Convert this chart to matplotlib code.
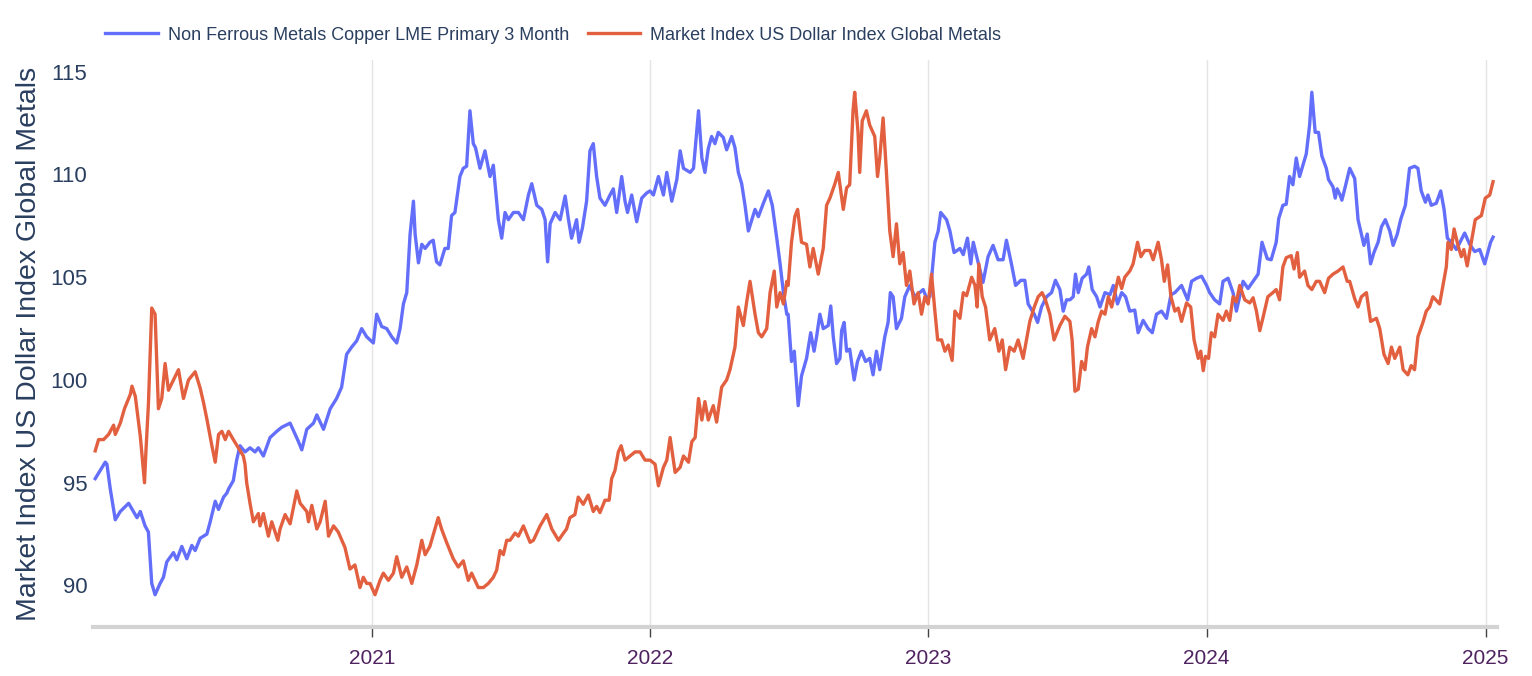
import numpy as np
import pandas as pd
import matplotlib
matplotlib.use("Agg")
import matplotlib.pyplot as plt
import matplotlib.dates as mdates

plt.rcParams["font.family"] = ["Liberation Sans", "DejaVu Sans"]

# decimal-year positions and values
copper_t = [
    2020.008, 2020.026, 2020.044, 2020.050, 2020.062, 2020.080, 2020.098, 2020.128, 2020.158, 2020.170,
    2020.187, 2020.199, 2020.211, 2020.223, 2020.241, 2020.253, 2020.265, 2020.289, 2020.301, 2020.319,
    2020.337, 2020.355, 2020.367, 2020.385, 2020.409, 2020.421, 2020.439, 2020.451, 2020.469, 2020.481,
    2020.487, 2020.504, 2020.516, 2020.528, 2020.546, 2020.564, 2020.582, 2020.594, 2020.612, 2020.636,
    2020.660, 2020.678, 2020.708, 2020.738, 2020.750, 2020.768, 2020.792, 2020.804, 2020.828, 2020.852,
    2020.875, 2020.893, 2020.911, 2020.929, 2020.947, 2020.965, 2020.983,
    2020.995, 2021.007, 2021.019, 2021.037, 2021.055, 2021.073, 2021.091, 2021.103, 2021.115, 2021.127,
    2021.139, 2021.151, 2021.157, 2021.169, 2021.181, 2021.193, 2021.210, 2021.222, 2021.234, 2021.246,
    2021.264, 2021.276, 2021.288, 2021.300, 2021.318, 2021.330, 2021.342, 2021.354, 2021.366, 2021.374,
    2021.390, 2021.408, 2021.426, 2021.438, 2021.456, 2021.468, 2021.480,
    2021.492, 2021.510, 2021.528, 2021.546, 2021.564, 2021.576, 2021.594, 2021.612, 2021.624, 2021.633,
    2021.642, 2021.660, 2021.678, 2021.696, 2021.708, 2021.719, 2021.737, 2021.746, 2021.758, 2021.773,
    2021.785, 2021.797, 2021.809, 2021.821, 2021.839, 2021.857, 2021.869, 2021.881, 2021.899, 2021.911,
    2021.920, 2021.935, 2021.953, 2021.971, 2021.989,
    2022.001, 2022.013, 2022.031, 2022.049, 2022.061, 2022.079, 2022.097, 2022.109, 2022.121, 2022.145,
    2022.157, 2022.175, 2022.187, 2022.198, 2022.210, 2022.222, 2022.234, 2022.246, 2022.264, 2022.276,
    2022.294, 2022.306, 2022.318, 2022.330, 2022.342, 2022.354, 2022.378, 2022.390, 2022.408, 2022.426,
    2022.440, 2022.456, 2022.468, 2022.480, 2022.492,
    2022.497, 2022.509, 2022.519, 2022.533, 2022.545, 2022.563, 2022.578, 2022.590, 2022.599, 2022.611,
    2022.623, 2022.641, 2022.650, 2022.659, 2022.671, 2022.683, 2022.689, 2022.698, 2022.707, 2022.718,
    2022.734, 2022.746, 2022.760, 2022.775, 2022.790, 2022.802, 2022.814, 2022.826, 2022.844, 2022.856,
    2022.864, 2022.874, 2022.886, 2022.904, 2022.916, 2022.934, 2022.952, 2022.982, 2022.994,
    2023.006, 2023.024, 2023.036, 2023.045, 2023.066, 2023.078, 2023.093, 2023.114, 2023.126, 2023.141,
    2023.153, 2023.162, 2023.177, 2023.197, 2023.215, 2023.233, 2023.251, 2023.269, 2023.281, 2023.299,
    2023.314, 2023.333, 2023.347, 2023.359, 2023.381, 2023.393, 2023.407, 2023.425, 2023.443, 2023.457,
    2023.473, 2023.485, 2023.497,
    2023.509, 2023.521, 2023.529, 2023.539, 2023.553, 2023.569, 2023.577, 2023.589, 2023.605, 2023.617,
    2023.635, 2023.653, 2023.665, 2023.680, 2023.695, 2023.709, 2023.724, 2023.742, 2023.754, 2023.772,
    2023.790, 2023.805, 2023.820, 2023.838, 2023.856, 2023.872, 2023.886, 2023.910, 2023.932, 2023.946,
    2023.964, 2023.982, 2024.000,
    2024.011, 2024.029, 2024.047, 2024.059, 2024.077, 2024.095, 2024.107, 2024.131, 2024.149, 2024.167,
    2024.185, 2024.199, 2024.218, 2024.232, 2024.250, 2024.259, 2024.274, 2024.286, 2024.298, 2024.310,
    2024.322, 2024.334, 2024.346, 2024.358, 2024.370, 2024.378, 2024.390, 2024.402, 2024.414, 2024.430,
    2024.438, 2024.454, 2024.462, 2024.469, 2024.478, 2024.486, 2024.498,
    2024.514, 2024.532, 2024.544, 2024.556, 2024.565, 2024.577, 2024.589, 2024.601, 2024.616, 2024.628,
    2024.642, 2024.658, 2024.670, 2024.685, 2024.697, 2024.714, 2024.729, 2024.747, 2024.759, 2024.771,
    2024.786, 2024.795, 2024.807, 2024.825, 2024.841, 2024.853, 2024.865, 2024.879, 2024.897, 2024.927,
    2024.945, 2024.963, 2024.981, 2024.999, 2025.020, 2025.029,
]
copper_v = [
    95.2, 95.6, 96.0, 95.9, 94.7, 93.2, 93.6, 94.0, 93.3, 93.6,
    92.9, 92.6, 90.1, 89.55, 90.1, 90.4, 91.15, 91.6, 91.25, 91.9,
    91.3, 91.95, 91.7, 92.3, 92.5, 93.1, 94.1, 93.7, 94.3, 94.5,
    94.7, 95.1, 96.1, 96.8, 96.5, 96.7, 96.5, 96.7, 96.3, 97.2,
    97.5, 97.7, 97.9, 97.0, 96.6, 97.6, 97.9, 98.3, 97.6, 98.6,
    99.1, 99.65, 101.25, 101.6, 101.9, 102.5, 102.1,
    101.95, 101.8, 103.2, 102.6, 102.5, 102.1, 101.8, 102.5, 103.7, 104.25,
    107.1, 108.7, 107.1, 105.7, 106.6, 106.4, 106.7, 106.8, 105.75, 105.6,
    106.4, 106.4, 108.0, 108.15, 109.9, 110.3, 110.4, 113.1, 111.5, 111.3,
    110.3, 111.15, 109.9, 110.45, 107.8, 106.9, 108.15,
    107.8, 108.15, 108.15, 107.8, 109.0, 109.55, 108.5, 108.3, 107.8, 105.75,
    107.6, 108.15, 107.8, 108.95, 107.8, 106.9, 107.8, 106.7, 107.4, 108.7,
    111.15, 111.5, 109.9, 108.85, 108.5, 109.0, 109.3, 108.15, 109.9, 108.7,
    108.15, 109.0, 107.7, 108.85, 109.1,
    109.2, 109.0, 109.9, 109.0, 110.1, 108.7, 109.75, 111.15, 110.3, 110.1,
    110.3, 113.1, 110.8, 110.1, 111.25, 111.85, 111.5, 112.05, 111.8, 111.2,
    111.85, 111.3, 110.1, 109.55, 108.5, 107.25, 108.3, 107.95, 108.6, 109.2,
    108.5, 106.9, 105.65, 104.25, 103.2,
    103.2, 100.9, 101.4, 98.75, 100.2, 101.05, 102.3, 101.4, 102.1, 103.2,
    102.5, 102.65, 103.6, 102.1, 100.8, 101.05, 102.4, 102.8, 101.4, 101.5,
    100.0, 100.9, 101.4, 100.9, 101.05, 100.25, 101.4, 100.5, 102.1, 102.8,
    104.25, 104.05, 102.5, 103.0, 104.05, 104.6, 104.05, 104.4, 104.0,
    104.05, 106.7, 107.25, 108.15, 107.8, 107.25, 106.2, 106.4, 106.1, 106.9,
    105.65, 106.7, 105.85, 104.75, 106.0, 106.55, 105.85, 105.85, 106.8, 105.65,
    104.6, 104.85, 104.85, 103.7, 103.2, 102.8, 103.55, 104.05, 104.25, 104.85,
    104.4, 103.35, 103.9,
    103.9, 104.05, 105.15, 104.25, 104.95, 105.15, 105.5, 104.4, 104.05, 103.55,
    104.25, 104.15, 104.6, 103.7, 104.25, 104.05, 103.35, 103.4, 102.3, 102.9,
    102.5, 102.3, 103.2, 103.35, 103.0, 104.15, 104.25, 104.6, 103.9, 104.8,
    104.95, 105.05, 104.6,
    104.25, 103.9, 103.7, 104.8, 104.95, 104.25, 103.35, 104.8, 104.45, 104.8,
    105.15, 106.7, 105.9, 105.85, 106.7, 107.85, 108.5, 108.55, 109.9, 109.5,
    110.8, 109.9, 110.45, 111.0, 112.4, 114.0, 112.05, 112.05, 110.9, 110.3,
    109.75, 109.4, 108.85, 109.3, 109.05, 108.75, 109.4,
    110.3, 109.8, 107.8, 107.1, 106.55, 107.1, 105.65, 106.2, 106.7, 107.45,
    107.8, 107.25, 106.55, 107.1, 107.8, 108.5, 110.3, 110.4, 110.3, 109.2,
    108.65, 109.0, 108.5, 108.6, 109.2, 108.3, 106.9, 106.7, 106.35, 107.15,
    106.6, 106.25, 106.35, 105.65, 106.7, 106.95,
]

usd_t = [
    2020.008, 2020.020, 2020.038, 2020.056, 2020.074, 2020.080, 2020.098, 2020.113, 2020.122, 2020.134,
    2020.140, 2020.152, 2020.170, 2020.185, 2020.190, 2020.199, 2020.211, 2020.223, 2020.235, 2020.247,
    2020.259, 2020.271, 2020.289, 2020.307, 2020.325, 2020.343, 2020.355, 2020.367, 2020.385, 2020.397,
    2020.409, 2020.427, 2020.439, 2020.451, 2020.463, 2020.475,
    2020.487, 2020.504, 2020.522, 2020.540, 2020.546, 2020.552, 2020.564, 2020.576, 2020.594, 2020.600,
    2020.612, 2020.630, 2020.642, 2020.664, 2020.672, 2020.690, 2020.708, 2020.732, 2020.744, 2020.768,
    2020.774, 2020.786, 2020.804, 2020.816, 2020.834, 2020.846, 2020.864, 2020.881, 2020.905, 2020.923,
    2020.941, 2020.959, 2020.971, 2020.983,
    2020.995, 2021.013, 2021.031, 2021.043, 2021.061, 2021.079, 2021.091, 2021.109, 2021.127, 2021.145,
    2021.163, 2021.181, 2021.193, 2021.210, 2021.228, 2021.240, 2021.252, 2021.270, 2021.294, 2021.312,
    2021.330, 2021.348, 2021.360, 2021.384, 2021.402, 2021.420, 2021.438, 2021.450, 2021.462, 2021.474,
    2021.486,
    2021.498, 2021.516, 2021.528, 2021.546, 2021.570, 2021.582, 2021.606, 2021.630, 2021.648, 2021.672,
    2021.690, 2021.701, 2021.713, 2021.731, 2021.743, 2021.761, 2021.779, 2021.797, 2021.809, 2021.821,
    2021.839, 2021.854, 2021.863, 2021.875, 2021.887, 2021.897, 2021.911, 2021.929, 2021.947, 2021.965,
    2021.983,
    2022.001, 2022.019, 2022.031, 2022.049, 2022.061, 2022.073, 2022.091, 2022.109, 2022.121, 2022.139,
    2022.151, 2022.163, 2022.175, 2022.187, 2022.198, 2022.210, 2022.228, 2022.240, 2022.258, 2022.276,
    2022.288, 2022.306, 2022.318, 2022.336, 2022.348, 2022.360, 2022.378, 2022.390, 2022.402, 2022.420,
    2022.432, 2022.447, 2022.456, 2022.468, 2022.480, 2022.492,
    2022.497, 2022.509, 2022.521, 2022.531, 2022.545, 2022.563, 2022.575, 2022.587, 2022.605, 2022.623,
    2022.635, 2022.647, 2022.665, 2022.677, 2022.695, 2022.707, 2022.718, 2022.730, 2022.736, 2022.748,
    2022.754, 2022.763, 2022.778, 2022.790, 2022.808, 2022.818, 2022.826, 2022.838, 2022.850, 2022.862,
    2022.874, 2022.886, 2022.898, 2022.910, 2022.922, 2022.934, 2022.949, 2022.964, 2022.976, 2022.988,
    2023.000, 2023.012, 2023.024, 2023.034, 2023.048, 2023.060, 2023.072, 2023.086, 2023.096, 2023.114,
    2023.126, 2023.138, 2023.156, 2023.168, 2023.176, 2023.182, 2023.194, 2023.206, 2023.221, 2023.239,
    2023.254, 2023.266, 2023.278, 2023.293, 2023.309, 2023.323, 2023.341, 2023.353, 2023.365, 2023.381,
    2023.395, 2023.409, 2023.421, 2023.437, 2023.452, 2023.473, 2023.491,
    2023.509, 2023.517, 2023.527, 2023.539, 2023.551, 2023.563, 2023.572, 2023.587, 2023.599, 2023.611,
    2023.623, 2023.635, 2023.647, 2023.659, 2023.671, 2023.683, 2023.695, 2023.706, 2023.724, 2023.736,
    2023.752, 2023.764, 2023.778, 2023.796, 2023.808, 2023.826, 2023.838, 2023.848, 2023.860, 2023.872,
    2023.886, 2023.898, 2023.910, 2023.928, 2023.943, 2023.955, 2023.970, 2023.979, 2023.988, 2023.996,
    2024.007, 2024.017, 2024.029, 2024.041, 2024.059, 2024.071, 2024.083, 2024.095, 2024.107, 2024.119,
    2024.137, 2024.155, 2024.167, 2024.179, 2024.191, 2024.202, 2024.220, 2024.238, 2024.250, 2024.262,
    2024.274, 2024.286, 2024.304, 2024.314, 2024.326, 2024.334, 2024.352, 2024.364, 2024.378, 2024.394,
    2024.406, 2024.424, 2024.438, 2024.454, 2024.472, 2024.490, 2024.505,
    2024.514, 2024.532, 2024.544, 2024.556, 2024.574, 2024.589, 2024.610, 2024.622, 2024.637, 2024.652,
    2024.664, 2024.676, 2024.694, 2024.706, 2024.723, 2024.735, 2024.747, 2024.759, 2024.777, 2024.789,
    2024.801, 2024.813, 2024.837, 2024.849, 2024.861, 2024.867, 2024.879, 2024.889, 2024.903, 2024.915,
    2024.924, 2024.936, 2024.951, 2024.965, 2024.987, 2025.001, 2025.017, 2025.029,
]
usd_v = [
    96.55, 97.1, 97.1, 97.35, 97.8, 97.35, 97.9, 98.6, 98.9, 99.3,
    99.7, 99.2, 97.25, 95.0, 96.5, 98.8, 103.5, 103.2, 98.6, 99.1,
    100.8, 99.5, 100.0, 100.5, 99.1, 100.0, 100.2, 100.4, 99.6, 98.9,
    98.1, 96.8, 96.0, 97.35, 97.5, 97.1,
    97.5, 97.1, 96.7, 96.3, 95.9, 95.0, 94.0, 93.1, 93.5, 92.9,
    93.5, 92.4, 93.1, 92.2, 92.75, 93.45, 93.0, 94.6, 94.0, 93.6,
    93.1, 93.9, 92.75, 93.1, 94.1, 92.4, 92.9, 92.6, 91.85, 90.8,
    91.0, 89.9, 90.4, 90.1,
    90.1, 89.55, 90.25, 90.6, 90.25, 90.6, 91.4, 90.4, 90.9, 90.1,
    91.0, 92.2, 91.5, 91.9, 92.75, 93.3, 92.75, 92.1, 91.3, 90.9,
    91.2, 90.25, 90.6, 89.9, 89.9, 90.1, 90.4, 90.75, 91.7, 91.5,
    92.2,
    92.2, 92.55, 92.4, 92.9, 92.1, 92.2, 92.9, 93.45, 92.75, 92.2,
    92.55, 92.75, 93.3, 93.45, 94.3, 93.95, 94.4, 93.6, 93.85, 93.55,
    94.15, 94.15, 95.2, 95.6, 96.5, 96.8, 96.1, 96.3, 96.5, 96.5,
    96.1,
    96.1, 95.9, 94.85, 95.75, 96.1, 97.2, 95.5, 95.75, 96.3, 96.0,
    97.0, 97.2, 99.1, 98.05, 98.95, 98.05, 98.75, 97.95, 99.65, 100.0,
    100.5, 101.6, 103.55, 102.65, 103.8, 104.8, 103.2, 102.3, 102.1, 102.5,
    104.25, 105.3, 103.55, 104.25, 103.7, 104.8,
    104.6, 106.7, 107.95, 108.3, 106.7, 106.6, 105.5, 106.4, 105.15, 106.4,
    108.5, 108.85, 109.55, 110.1, 108.3, 109.35, 109.5, 113.1, 114.0, 112.05,
    110.1, 112.6, 113.1, 112.4, 111.85, 109.9, 110.8, 112.75, 110.1, 107.25,
    106.0, 107.6, 105.65, 106.2, 104.6, 105.3, 103.7, 104.25, 103.2, 104.05,
    103.7, 105.15, 103.35, 101.95, 101.95, 101.4, 101.7, 100.95, 103.35, 103.0,
    104.25, 104.1, 105.0, 104.6, 103.55, 105.65, 104.05, 103.55, 101.95, 102.5,
    101.4, 101.95, 100.5, 101.6, 101.4, 101.95, 101.05, 101.95, 102.85, 103.55,
    104.05, 104.25, 103.9, 103.2, 101.95, 102.65, 103.1,
    102.85, 101.95, 99.45, 99.55, 100.9, 100.5, 101.6, 102.5, 102.1, 102.85,
    103.35, 103.2, 104.05, 103.55, 104.25, 105.0, 104.45, 105.0, 105.3, 105.65,
    106.7, 106.0, 106.3, 106.3, 105.85, 106.7, 105.85, 104.8, 105.6, 104.05,
    103.35, 103.5, 102.85, 103.75, 103.55, 101.95, 101.05, 101.4, 100.45, 101.15,
    101.05, 102.3, 102.1, 103.2, 102.9, 103.35, 102.9, 104.05, 103.8, 104.6,
    103.9, 103.75, 104.0, 103.35, 102.4, 103.0, 104.05, 104.25, 104.4, 103.9,
    105.5, 105.95, 106.05, 105.4, 106.2, 105.0, 105.3, 104.6, 104.4, 104.8,
    104.8, 104.25, 104.95, 105.15, 105.3, 105.5, 104.8,
    104.8, 103.95, 103.55, 104.05, 104.25, 102.85, 103.0, 102.5, 101.25, 100.8,
    101.6, 101.05, 101.6, 100.5, 100.25, 100.7, 100.5, 102.1, 102.8, 103.35,
    103.55, 104.05, 103.7, 104.6, 105.5, 106.7, 106.35, 107.35, 106.55, 106.0,
    106.35, 105.55, 106.7, 107.8, 108.0, 108.85, 109.0, 109.65,
]

series_names = [
    "Non Ferrous Metals Copper LME Primary 3 Month",
    "Market Index US Dollar Index Global Metals",
]
y_title = "Market Index US Dollar Index Global Metals"
y_ticks = [90, 95, 100, 105, 110, 115]
x_years = [2021, 2022, 2023, 2024, 2025]


def to_dates(t):
    t = np.asarray(t, dtype=float)
    return pd.Timestamp("2020-01-01") + pd.to_timedelta((t - 2020.0) * 365.25, unit="D")


W, H = 1532, 676
fig = plt.figure(figsize=(W / 100, H / 100), dpi=100)
ax = fig.add_axes([93 / W, 49 / H, 1404 / W, 567 / H])

ax.plot(to_dates(copper_t), copper_v, color="#636EFA", lw=2.4, label=series_names[0], zorder=3)
ax.plot(to_dates(usd_t), usd_v, color="#E2603F", lw=2.4, label=series_names[1], zorder=3)

ax.set_xlim(pd.Timestamp("2020-01-01"), pd.Timestamp("2025-01-16"))
ax.set_ylim(87.98, 115.57)

ax.set_xticks([pd.Timestamp(f"{y}-01-01") for y in x_years])
ax.xaxis.set_major_formatter(mdates.DateFormatter("%Y"))
ax.set_yticks(y_ticks)

for s in ["top", "right", "left"]:
    ax.spines[s].set_visible(False)
ax.spines["bottom"].set_color("#d3d3d3")
ax.spines["bottom"].set_linewidth(3)

ax.grid(axis="x", color="#e4e4e4", lw=1)
ax.set_axisbelow(True)

ax.tick_params(axis="x", direction="out", length=7, width=1, color="#444444",
               labelsize=15, labelcolor="#4f2360", pad=9)
ax.tick_params(axis="y", length=0, labelsize=16, labelcolor="#2a3f5f", pad=4)

ax.set_ylabel(y_title, fontsize=20.5, color="#2a3f5f", labelpad=6)

fig.legend(loc="center left", bbox_to_anchor=(89 / W, 1 - 35 / H), ncol=2, frameon=False,
           fontsize=13, handlelength=2.9, handletextpad=0.55, columnspacing=1.05,
           labelcolor="#2a3f5f")

fig.savefig("out.png", dpi=100)
